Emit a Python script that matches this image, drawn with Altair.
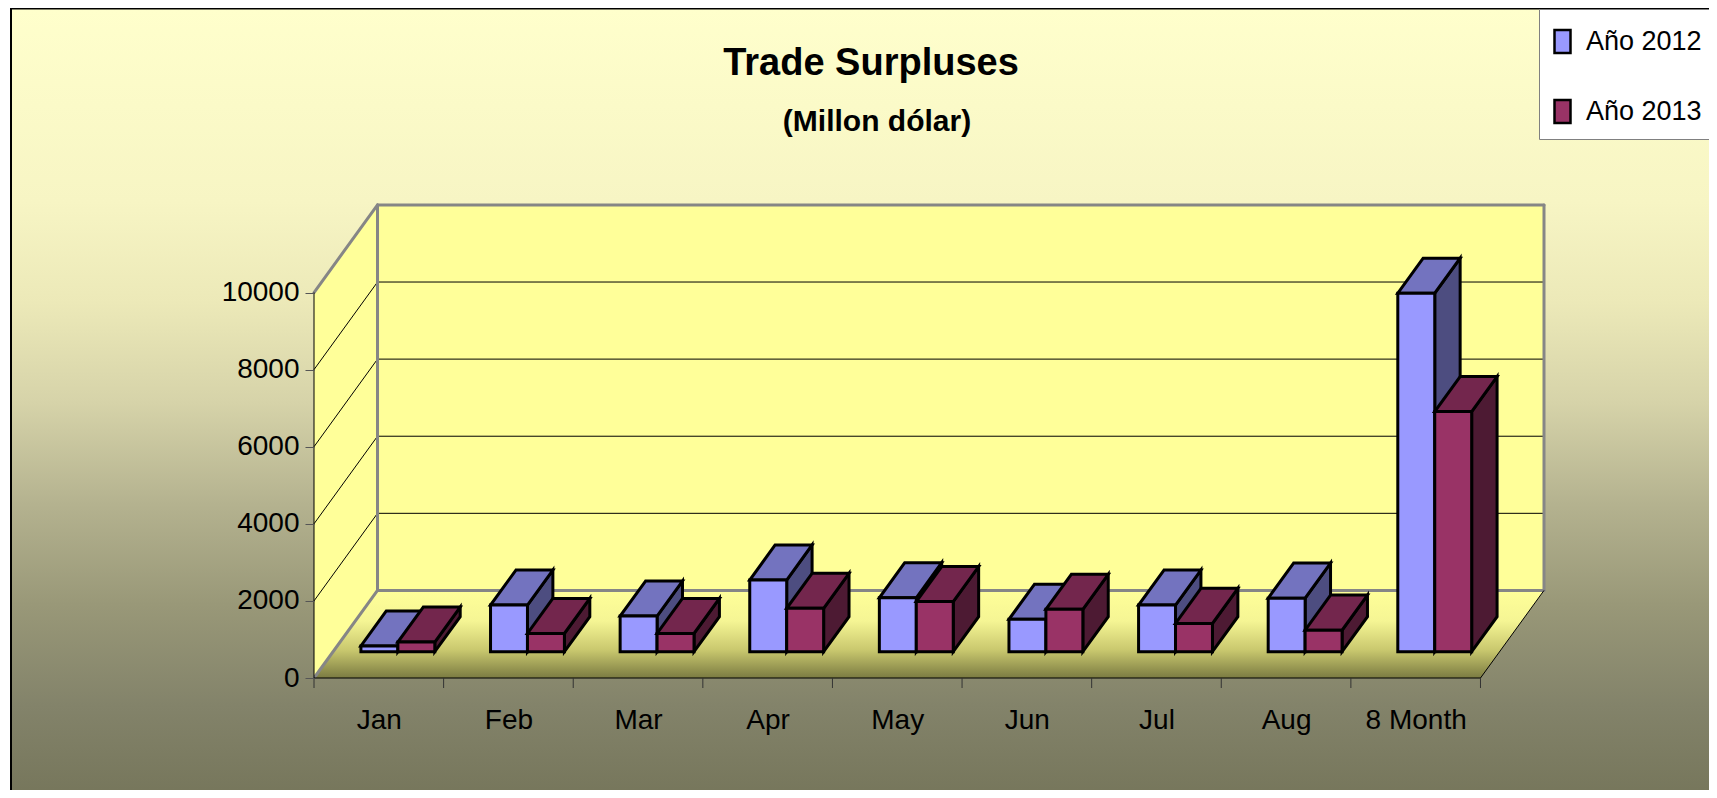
import altair as alt
import pandas as pd

# ---------------- data ----------------
months = ["Jan", "Feb", "Mar", "Apr", "May", "Jun", "Jul", "Aug", "8 Month"]
series = ["Año 2012", "Año 2013"]
values_2012 = [150, 1210, 925, 1860, 1400, 840, 1210, 1390, 9300]
values_2013 = [250, 475, 475, 1125, 1300, 1100, 735, 560, 6230]
y_ticks = [0, 2000, 4000, 6000, 8000, 10000]
title_text = "Trade Surpluses"
subtitle_text = "(Millon dólar)"

# ---------------- style ----------------
FONT = "'Liberation Sans Narrow', 'Liberation Sans', Arial, sans-serif"
front_colors = ["#9999FF", "#993366"]
top_colors = ["#7373BF", "#73264D"]
side_colors = ["#4D4D80", "#4D1A33"]
WALL = "#FFFF99"
EDGE = "#868686"

# ---------------- 3D geometry (data units) ----------------
N = len(months)
DX = 0.49          # depth shift in category units
DY = 2272          # depth shift in value units
D0, D1 = 0.3, 0.7  # bar depth slice
BW = 0.285         # bar width (category units)
WALL_TOP = y_ticks[-1]
YMAX = 12270

W, H = 1230, 473
PAD = dict(left=306, top=197, right=165, bottom=112)
PX_PER_UNIT = H / YMAX
TICK_LEN = 10 / PX_PER_UNIT

xs = alt.Scale(domain=[0, N + DX], nice=False, zero=False)
ys = alt.Scale(domain=[0, YMAX], nice=False, zero=False)

label_expr = "[" + ",".join("'%s'" % m for m in months) + "][floor(datum.value)]"
x_axis = alt.Axis(values=[i + 0.5 for i in range(N)], labelExpr=label_expr, title=None,
                  ticks=False, tickSize=0, domain=False, grid=False, labelPadding=42,
                  labelBaseline="middle", labelFontSize=28, labelColor="black",
                  labelFlush=False, labelOverlap=False, zindex=1)
y_axis = alt.Axis(values=y_ticks, format="d", title=None, domain=False, grid=False,
                  tickSize=9, tickColor="#555555", tickWidth=1, labelPadding=6,
                  labelFontSize=28, labelColor="black", labelOverlap=False, zindex=1)


def X(f):
    return alt.X(f, type="quantitative", scale=xs, axis=x_axis)


def Y(f):
    return alt.Y(f, type="quantitative", scale=ys, axis=y_axis, stack=None)


# ---------------- background ----------------
bg = alt.Chart(pd.DataFrame({"k": [0]})).mark_rect(
    fill=alt.Gradient(gradient="linear", x1=0, x2=0, y1=0, y2=1, stops=[
        alt.GradientStop(color="#FFFFCC", offset=0),
        alt.GradientStop(color="#F7F5C4", offset=0.245),
        alt.GradientStop(color="#ECE9B8", offset=0.373),
        alt.GradientStop(color="#D6D3A9", offset=0.5),
        alt.GradientStop(color="#B4B28F", offset=0.63),
        alt.GradientStop(color="#999878", offset=0.757),
        alt.GradientStop(color="#83836A", offset=0.885),
        alt.GradientStop(color="#76765B", offset=1),
    ]),
    stroke="black", strokeWidth=2,
).encode(
    x=alt.value(-PAD["left"] + 3), x2=alt.value(W + PAD["right"] + 6),
    y=alt.value(-PAD["top"] + 0.5), y2=alt.value(H + PAD["bottom"] + 6),
)

# ---------------- walls and floor ----------------
back_wall = alt.Chart(pd.DataFrame({"x": [DX], "x2": [N + DX], "y": [DY], "y2": [WALL_TOP + DY]})).mark_rect(
    fill=WALL).encode(x=X("x"), x2="x2", y=Y("y"), y2="y2")

side_wall = alt.Chart(pd.DataFrame({"X": [0, DX], "lo": [0, DY], "hi": [WALL_TOP, WALL_TOP + DY]})).mark_area(
    fill=WALL, orient="vertical").encode(x=X("X"), y=Y("lo"), y2="hi")

floor = alt.Chart(pd.DataFrame({"Y": [0, DY], "lo": [0, DX], "hi": [N, N + DX]})).mark_area(
    orient="horizontal",
    fill=alt.Gradient(gradient="linear", x1=0, x2=0, y1=0, y2=1, stops=[
        alt.GradientStop(color="#FFFF99", offset=0),
        alt.GradientStop(color="#F5F594", offset=0.35),
        alt.GradientStop(color="#C9C86E", offset=0.68),
        alt.GradientStop(color="#7B7B42", offset=1),
    ]),
).encode(y=Y("Y"), x=X("lo"), x2="hi")


def segs(rows):
    return pd.DataFrame(rows, columns=["x", "y", "x2", "y2"])


grid_rows = []
for v in y_ticks[1:-1]:
    grid_rows.append((DX, v + DY, N + DX, v + DY))
    grid_rows.append((0, v, DX, v + DY))
grid = alt.Chart(segs(grid_rows)).mark_rule(color="black", strokeWidth=1).encode(
    x=X("x"), y=Y("y"), x2="x2", y2="y2")

edge_rows = [
    (DX, WALL_TOP + DY, N + DX, WALL_TOP + DY),
    (DX, DY, DX, WALL_TOP + DY),
    (N + DX, DY, N + DX, WALL_TOP + DY),
    (DX, DY, N + DX, DY),
    (0, WALL_TOP, DX, WALL_TOP + DY),
    (0, 0, DX, DY),
]
edges = alt.Chart(segs(edge_rows)).mark_rule(color=EDGE, strokeWidth=3, strokeCap="round").encode(
    x=X("x"), y=Y("y"), x2="x2", y2="y2")

line_rows = [
    (0, 0, 0, WALL_TOP),
    (0, 0, N, 0),
    (N, 0, N + DX, DY),
]
lines = alt.Chart(segs(line_rows)).mark_rule(color="black", strokeWidth=1).encode(
    x=X("x"), y=Y("y"), x2="x2", y2="y2")

tick_rows = [(i, 0, i, -TICK_LEN) for i in range(N + 1)]
xticks = alt.Chart(segs(tick_rows)).mark_rule(color="#333333", strokeWidth=1).encode(
    x=X("x"), y=Y("y"), x2="x2", y2="y2")

# ---------------- bars ----------------
color_scale = alt.Scale(domain=series, range=front_colors)
legend = alt.Legend(
    orient="none", legendX=1539 - 314, legendY=9 - 205, title=" ", titleFontSize=1, titlePadding=8,
    direction="vertical",
    fillColor="white", strokeColor="#808080", padding=10, rowPadding=35,
    symbolType="M-1,-1.45H1V1.45H-1Z", symbolSize=256,
    symbolStrokeColor="black", symbolStrokeWidth=2.5, symbolOpacity=1,
    labelFont=FONT, labelFontSize=27, labelColor="black", labelOffset=10, labelLimit=300, zindex=1,
)

bar_layers = []
for s, vals in enumerate([values_2012, values_2013]):
    front_rows, top_rows, side_rows = [], [], []
    for i, v in enumerate(vals):
        x1 = i + 0.5 - BW + s * BW + D0 * DX
        x2 = x1 + BW
        sx = (D1 - D0) * DX
        front_rows.append({"year": series[s], "x": x1, "x2": x2, "y": D0 * DY, "y2": v + D0 * DY})
        top_rows.append({"id": i, "Y": v + D0 * DY, "lo": x1, "hi": x2})
        top_rows.append({"id": i, "Y": v + D1 * DY, "lo": x1 + sx, "hi": x2 + sx})
        side_rows.append({"id": i, "X": x2, "lo": D0 * DY, "hi": v + D0 * DY})
        side_rows.append({"id": i, "X": x2 + sx, "lo": D1 * DY, "hi": v + D1 * DY})
    side = alt.Chart(pd.DataFrame(side_rows)).mark_area(
        orient="vertical", fill=side_colors[s], stroke="black", strokeWidth=3, strokeJoin="miter"
    ).encode(x=X("X"), y=Y("lo"), y2="hi", detail="id:N")
    top = alt.Chart(pd.DataFrame(top_rows)).mark_area(
        orient="horizontal", fill=top_colors[s], stroke="black", strokeWidth=3, strokeJoin="miter"
    ).encode(y=Y("Y"), x=X("lo"), x2="hi", detail="id:N")
    front = alt.Chart(pd.DataFrame(front_rows)).mark_rect(
        stroke="black", strokeWidth=3, opacity=1
    ).encode(x=X("x"), x2="x2", y=Y("y"), y2="y2",
             color=alt.Color("year:N", scale=color_scale, legend=legend))
    bar_layers += [side, top, front]

# ---------------- titles ----------------
titles_df = pd.DataFrame({"t": [title_text]})
title_mark = alt.Chart(titles_df).mark_text(
    font=FONT, fontSize=38, fontWeight="bold", color="black", align="center", baseline="alphabetic"
).encode(text="t:N", x=alt.value(871 - 314), y=alt.value(75 - 205))
sub_df = pd.DataFrame({"t": [subtitle_text]})
subtitle_mark = alt.Chart(sub_df).mark_text(
    font=FONT, fontSize=30, fontWeight="bold", color="black", align="center", baseline="alphabetic"
).encode(text="t:N", x=alt.value(877 - 314), y=alt.value(131 - 205))

chart = alt.layer(
    bg, back_wall, side_wall, floor, grid, edges, lines, xticks, *bar_layers, title_mark, subtitle_mark
).properties(
    width=W, height=H,
    autosize=alt.AutoSizeParams(type="none"),
    padding=PAD,
).configure_view(stroke=None).configure_axis(labelFont=FONT).configure(background="white")

chart.save("out.html", embed_options={"renderer": "svg", "actions": False})
